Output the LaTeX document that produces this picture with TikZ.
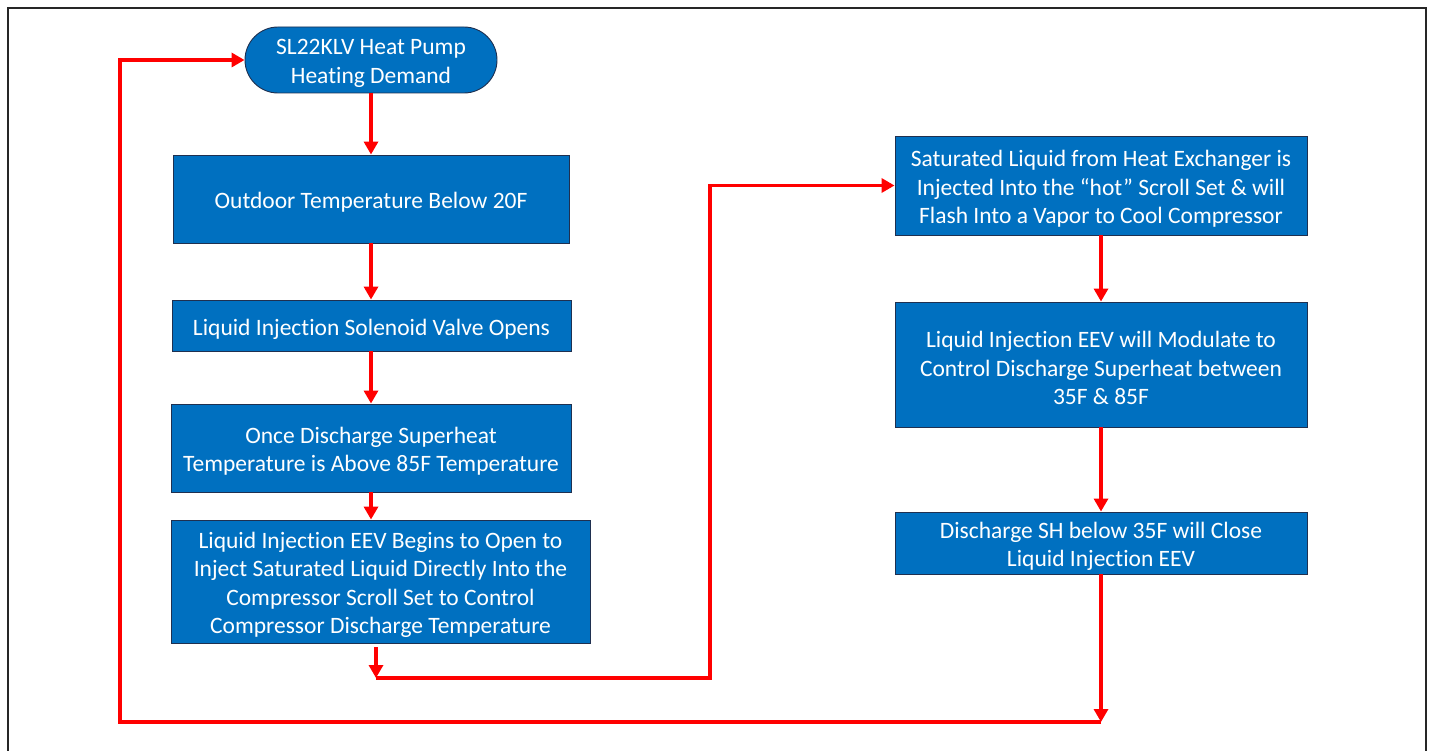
\documentclass[tikz,border=0pt]{standalone}
\usepackage{fontspec}
\setmainfont[Ligatures=NoCommon]{Carlito}
\usetikzlibrary{arrows.meta}
\definecolor{boxblue}{HTML}{0070C0}
\definecolor{boxedge}{HTML}{1F3050}
\definecolor{frame}{HTML}{262626}
\tikzset{
  box/.style={draw=boxedge, line width=0.9pt, fill=boxblue, inner sep=0pt},
  boxtext/.style={yshift=-3.5pt, text=white, align=center, inner sep=0pt,
    font=\fontsize{23.5}{28.3}\selectfont},
  flow/.style={draw=red, line width=3.6pt, line join=miter},
  arr/.style={flow, -{Triangle[length=13pt,width=14pt]}},
}
\begin{document}
\begin{tikzpicture}[x=1pt,y=-1pt]
\useasboundingbox (0,0) rectangle (1432,751);
\draw[frame, line width=2.5pt] (8,751) -- (8,8) -- (1426,8) -- (1426,751);

\node[box, rounded corners=33pt, minimum width=252, minimum height=66,
  label={[boxtext]center:{SL22KLV Heat Pump\\Heating Demand}}] (start) at (371,60) {};
\node[box, minimum width=396, minimum height=88,
  label={[boxtext]center:{Outdoor Temperature Below 20F}}] (b1) at (371,199) {};
\node[box, minimum width=399, minimum height=51,
  label={[boxtext]center:{Liquid Injection Solenoid Valve Opens}}] (b2) at (371.5,325.5) {};
\node[box, minimum width=400, minimum height=88,
  label={[boxtext]center:{Once Discharge Superheat\\Temperature is Above 85F Temperature}}] (b3) at (371,448) {};
\node[box, minimum width=419, minimum height=123,
  label={[boxtext]center:{Liquid Injection EEV Begins to Open to\\Inject Saturated Liquid Directly Into the\\Compressor Scroll Set to Control\\Compressor Discharge Temperature}}] (b4) at (380.5,581.5) {};
\node[box, minimum width=412, minimum height=99,
  label={[boxtext]center:{Saturated Liquid from Heat Exchanger is\\Injected Into the “hot” Scroll Set \& will\\Flash Into a Vapor to Cool Compressor}}] (b5) at (1101,185.5) {};
\node[box, minimum width=412, minimum height=125,
  label={[boxtext]center:{Liquid Injection EEV will Modulate to\\Control Discharge Superheat between\\35F \& 85F}}] (b6) at (1101,364.5) {};
\node[box, minimum width=412, minimum height=62,
  label={[boxtext]center:{Discharge SH below 35F will Close\\Liquid Injection EEV}}] (b7) at (1101,543) {};

\coordinate (c1) at (376,678);
\coordinate (c2) at (710,678);
\coordinate (c3) at (1101,722);
\coordinate (c4) at (120,722);
\coordinate (c0) at (376,647);

\draw[arr] (start) -- (b1);
\draw[arr] (b1.south -| start) -- (b2.north -| start);
\draw[arr] (b2.south -| start) -- (b3.north -| start);
\draw[arr] (b3.south -| start) -- (b4.north -| start);
\draw[arr] (c0) -- (c1);
\draw[arr] (c1) -- (c2) |- (b5.west);
\draw[arr] (b5) -- (b6);
\draw[arr] (b6) -- (b7);
\draw[arr] (b7) -- (c3);
\draw[arr] (c3) -- (c4) |- (start.west);
\end{tikzpicture}
\end{document}
